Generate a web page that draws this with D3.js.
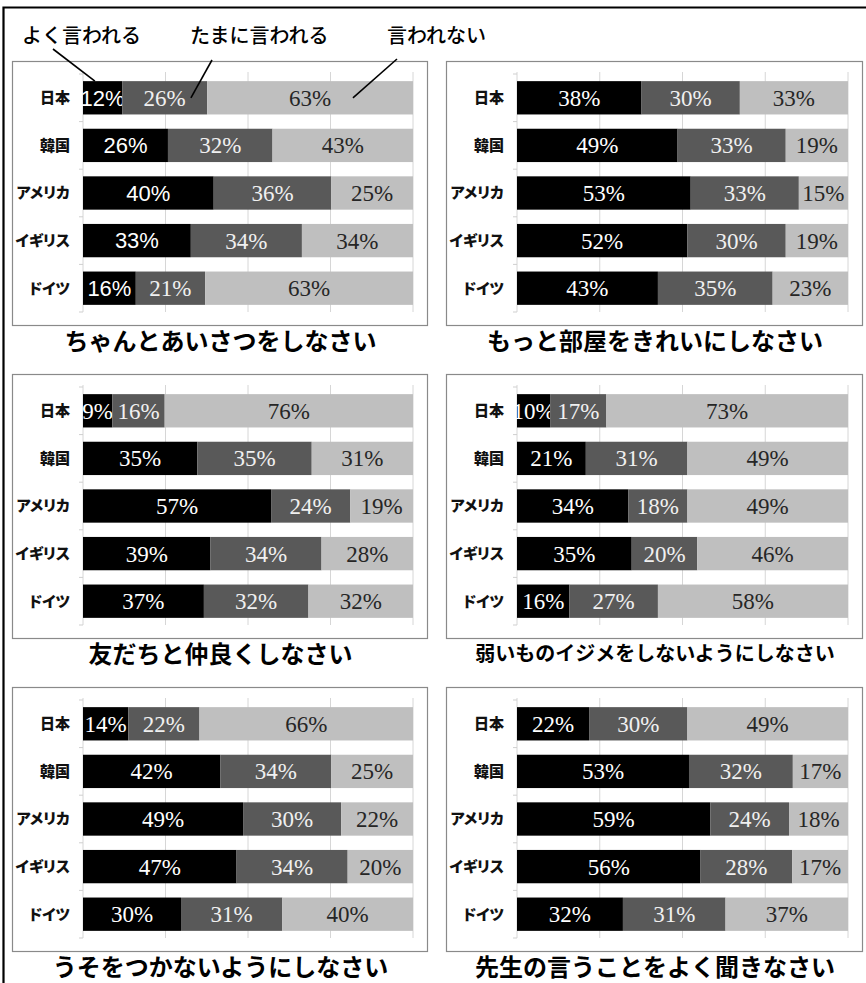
<!DOCTYPE html>
<html><head><meta charset="utf-8">
<script src="https://cdn.jsdelivr.net/npm/d3@7"></script>
<style>body{margin:0;background:#fff;} svg{display:block}
.serif{font-family:"Liberation Serif","DejaVu Serif",serif;}
.sans{font-family:"Liberation Sans","DejaVu Sans",sans-serif;}
.jp{font-family:"Noto Sans CJK JP",sans-serif;}
</style>
</head><body><svg id="c" width="866" height="983"></svg>
<script>
// ---- data ----
const countries = ["日本", "韓国", "アメリカ", "イギリス", "ドイツ"];
const seriesNames = ["よく言われる", "たまに言われる", "言われない"];
const titles = [
  "ちゃんとあいさつをしなさい",
  "もっと部屋をきれいにしなさい",
  "友だちと仲良くしなさい",
  "弱いものイジメをしないようにしなさい",
  "うそをつかないようにしなさい",
  "先生の言うことをよく聞きなさい"
];
const often = [
  [12, 26, 40, 33, 16],
  [38, 49, 53, 52, 43],
  [9, 35, 57, 39, 37],
  [10, 21, 34, 35, 16],
  [14, 42, 49, 47, 30],
  [22, 53, 59, 56, 32]
];
const sometimes = [
  [26, 32, 36, 34, 21],
  [30, 33, 33, 30, 35],
  [16, 35, 24, 34, 32],
  [17, 31, 18, 20, 27],
  [22, 34, 30, 34, 31],
  [30, 32, 24, 28, 31]
];
const never = [
  [63, 43, 25, 34, 63],
  [33, 19, 15, 19, 23],
  [76, 31, 19, 28, 32],
  [73, 49, 49, 46, 58],
  [66, 25, 22, 20, 40],
  [49, 17, 18, 17, 37]
];
const xTicks = [0, 0.25, 0.5, 0.75, 1];

// ---- styles / layout ----
const colors = ["#000000", "#595959", "#bfbfbf"];
const labelColors = ["#ffffff", "#f0f0f0", "#262626"];
const colX = [12, 446], colW = [415, 416];
const rowY = [61, 374, 687], boxH = 264;
const plotL = 71, plotW = 330, plotT = 13, plotB = 251;

const svg = d3.select("#c");

// outer frame (cropped scan)
svg.append("path").attr("d", "M3.5,983V7.5H866").attr("fill", "none")
  .attr("stroke", "#000").attr("stroke-width", 2.2);

const panelScales = [];
titles.forEach((title, p) => {
  const col = p % 2, row = Math.floor(p / 2);
  const g = svg.append("g").attr("transform", `translate(${colX[col]},${rowY[row]})`);
  g.append("rect").attr("x", 0.5).attr("y", 0.5).attr("width", colW[col]).attr("height", boxH)
    .attr("fill", "#fff").attr("stroke", "#8a8a8a").attr("stroke-width", 1.2);

  const x = d3.scaleLinear().domain([0, 1]).range([plotL, plotL + plotW + col]);
  const y = d3.scaleBand().domain(countries).range([plotT, plotB]).paddingInner(0.3).paddingOuter(0.15);
  panelScales.push({x, y, g, col, row});

  // gridlines
  g.selectAll("line.grid").data(xTicks).join("line")
    .attr("x1", d => x(d)).attr("x2", d => x(d))
    .attr("y1", plotT - 2).attr("y2", plotB)
    .attr("stroke", "#d6d6d6").attr("stroke-width", 1);
  // left axis ticks at band boundaries
  const bounds = countries.map(c => y(c) - y.step() * y.paddingInner() / 2).concat([plotB]);
  g.selectAll("line.tk").data(bounds).join("line")
    .attr("x1", plotL - 4).attr("x2", plotL).attr("y1", d => d).attr("y2", d => d)
    .attr("stroke", "#cfcfcf");

  // stacked rows
  countries.forEach((c, i) => {
    const vals = [often[p][i], sometimes[p][i], never[p][i]];
    const tot = d3.sum(vals);
    let cum = 0;
    vals.forEach((v, s) => {
      const x0 = x(cum / tot), x1 = x((cum + v) / tot);
      cum += v;
      g.append("rect").attr("x", x0).attr("y", y(c)).attr("width", x1 - x0).attr("height", y.bandwidth())
        .attr("fill", colors[s]);
      const sans = (p === 0 && s === 0);
      g.append("text").attr("class", sans ? "sans" : "serif")
        .attr("x", (x0 + x1) / 2).attr("y", y(c) + y.bandwidth() / 2)
        .attr("dy", "0.35em").attr("text-anchor", "middle")
        .attr("font-size", sans ? 22 : 23)
        .attr("fill", labelColors[s]).text(v + "%");
    });
    g.append("text").attr("class", "jp").attr("x", plotL - 13).attr("y", y(c) + y.bandwidth() / 2).attr("dy", "0.36em")
      .attr("text-anchor", "end").attr("font-weight", 900)
      .attr("font-size", 15).style("font-feature-settings", "'palt'").attr("fill", "#111").text(c);
  });

  const fs = Math.min(24, 360 / title.length);
  g.append("text").attr("class", "jp").attr("x", colW[col] / 2 + 1).attr("y", 280).attr("dy", "0.36em")
    .attr("text-anchor", "middle").attr("font-weight", 700)
    .attr("font-size", fs).attr("fill", "#000").text(title);
});

// legend with leader lines into the first panel
const legendX = [22, 190, 387];
const leaderStart = [[31, 13], [22, 24], [10, 23]];
const leaderTarget = [[0.036, 0], [0.327, 0.5], [0.818, 0.5]]; // (x fraction, band fraction)
const p0 = panelScales[0];
seriesNames.forEach((n, s) => {
  svg.append("text").attr("class", "jp").attr("x", legendX[s]).attr("y", 36).attr("dy", "0.36em")
    .attr("font-weight", 500).attr("font-size", 20)
    .attr("fill", "#000").text(n);
  const ex = colX[0] + p0.x(leaderTarget[s][0]);
  const ey = rowY[0] + p0.y(countries[0]) + p0.y.bandwidth() * leaderTarget[s][1];
  svg.append("line").attr("x1", legendX[s] + leaderStart[s][0]).attr("y1", 36 + leaderStart[s][1])
    .attr("x2", ex).attr("y2", ey).attr("stroke", "#000").attr("stroke-width", 1.6);
});
</script></body></html>
